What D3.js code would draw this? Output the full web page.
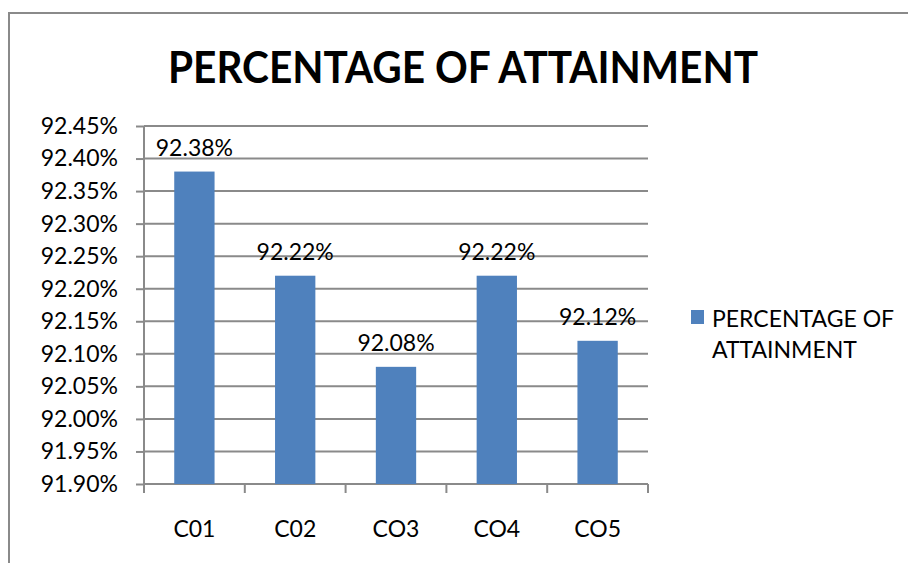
<!DOCTYPE html>
<html>
<head>
<meta charset="utf-8">
<script src="https://cdn.jsdelivr.net/npm/d3@7"></script>
<style>
  html, body { margin: 0; padding: 0; background: #fff; }
  svg { display: block; font-family: Lato, "Open Sans", sans-serif; }
</style>
</head>
<body>
<svg id="chart" width="908" height="563"></svg>
<script>
const categories = ["C01", "C02", "CO3", "CO4", "CO5"];
const values = [92.38, 92.22, 92.08, 92.22, 92.12];
const yTicks = [91.90, 91.95, 92.00, 92.05, 92.10, 92.15, 92.20, 92.25, 92.30, 92.35, 92.40, 92.45];
const seriesName = "PERCENTAGE OF ATTAINMENT";
const titleText = "PERCENTAGE OF ATTAINMENT";

const svg = d3.select("#chart");
const W = 908, H = 563;
const plot = { left: 144, right: 648, top: 126, bottom: 484 };
const grid = "#8a8a8a";
const fs = 23;

// outer border
svg.append("rect").attr("x", 9).attr("y", 13).attr("width", W + 20).attr("height", H + 20)
  .attr("fill", "none").attr("stroke", grid).attr("stroke-width", 2);

// title
const title = svg.append("text").attr("x", 463).attr("y", 83)
  .attr("text-anchor", "middle").attr("font-weight", 700).attr("font-size", 44)
  .attr("fill", "#000").text(titleText);
const tw = title.node().getComputedTextLength();
if (Math.abs(tw - 590) > 3) title.attr("textLength", 590).attr("lengthAdjust", "spacingAndGlyphs");

const x = d3.scaleBand().domain(categories).range([plot.left, plot.right]).paddingInner(0.6).paddingOuter(0.3);
const xEdges = d3.scaleBand().domain(categories).range([plot.left, plot.right]).padding(0);
const y = d3.scaleLinear().domain([91.90, 92.45]).range([plot.bottom, plot.top]);

// y ticks
const yAxis = d3.axisLeft(y).tickValues(yTicks).tickSize(8).tickPadding(18)
  .tickFormat(d => d3.format(".2f")(d) + "%");
const gy = svg.append("g").attr("transform", `translate(${plot.left},0)`).call(yAxis);
gy.select(".domain").remove();
gy.selectAll(".tick line").attr("stroke", grid).attr("stroke-width", 2);
gy.selectAll(".tick text").attr("font-size", fs).attr("fill", "#000").attr("font-family", "Lato, sans-serif");

// gridlines
svg.append("g").selectAll("line").data(yTicks.filter(d => d > 91.9)).join("line")
  .attr("x1", plot.left).attr("x2", plot.right)
  .attr("y1", d => y(d)).attr("y2", d => y(d))
  .attr("stroke", grid).attr("stroke-width", 2);

// axes lines
svg.append("line").attr("x1", plot.left).attr("x2", plot.left).attr("y1", plot.top).attr("y2", plot.bottom + 8)
  .attr("stroke", grid).attr("stroke-width", 2);
svg.append("line").attr("x1", plot.left).attr("x2", plot.right).attr("y1", plot.bottom).attr("y2", plot.bottom)
  .attr("stroke", grid).attr("stroke-width", 2);
// x ticks at band edges
const edges = categories.map(c => xEdges(c)).concat([plot.right]);
svg.append("g").selectAll("line").data(edges).join("line")
  .attr("x1", d => d).attr("x2", d => d).attr("y1", plot.bottom).attr("y2", plot.bottom + 9)
  .attr("stroke", grid).attr("stroke-width", 2);

// bars
svg.append("g").selectAll("rect").data(categories).join("rect")
  .attr("x", d => x(d)).attr("width", x.bandwidth())
  .attr("y", (d, i) => y(values[i])).attr("height", (d, i) => plot.bottom - y(values[i]))
  .attr("fill", "#4F81BD");

// data labels
svg.append("g").selectAll("text").data(categories).join("text")
  .attr("x", d => x(d) + x.bandwidth() / 2)
  .attr("y", (d, i) => y(values[i]) - 16)
  .attr("text-anchor", "middle").attr("font-size", fs).attr("fill", "#000")
  .text((d, i) => d3.format(".2f")(values[i]) + "%");

// x labels
svg.append("g").selectAll("text").data(categories).join("text")
  .attr("x", d => xEdges(d) + xEdges.bandwidth() / 2).attr("y", 537)
  .attr("text-anchor", "middle").attr("font-size", fs).attr("fill", "#000").text(d => d);

// legend
svg.append("rect").attr("x", 691).attr("y", 310).attr("width", 13).attr("height", 14).attr("fill", "#4F81BD");
const words = seriesName.split(" ");
const lines = [words.slice(0, 2).join(" "), words.slice(2).join(" ")];
svg.append("g").selectAll("text").data(lines).join("text")
  .attr("x", 712).attr("y", (d, i) => 327 + i * 31)
  .attr("font-size", fs).attr("fill", "#000").text(d => d);
</script>
</body>
</html>
